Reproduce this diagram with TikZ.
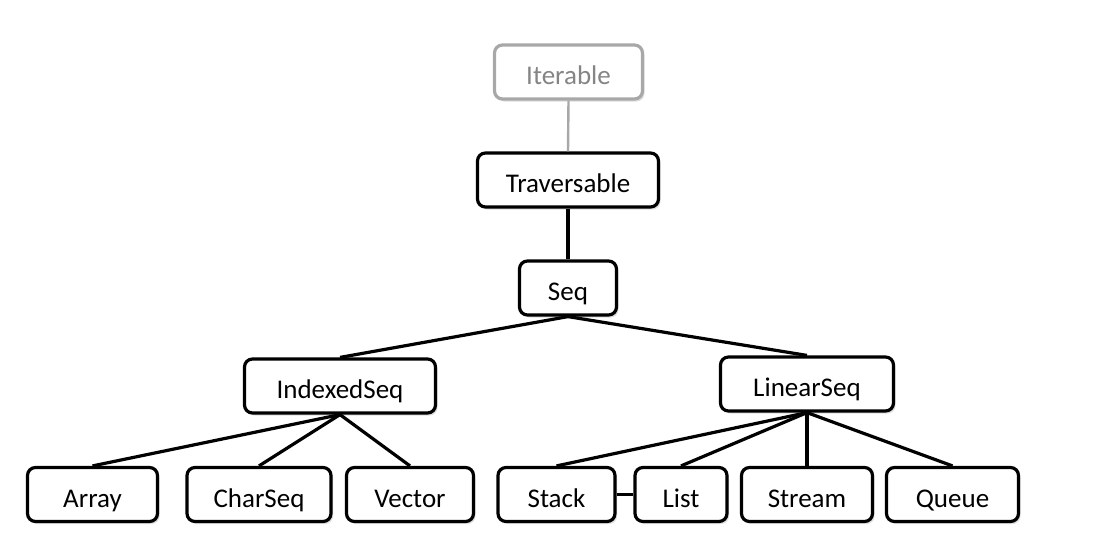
\documentclass[tikz,border=0pt]{standalone}
\usepackage{fontspec}
\setmainfont{Carlito}
\usetikzlibrary{shadows}
\definecolor{grayline}{HTML}{A8A8A8}
\definecolor{graytext}{HTML}{858585}
\tikzset{
  box/.style={draw=black, line width=3.2pt, rounded corners=8pt, fill=white,
    minimum height=54pt, inner sep=0pt, font=\fontsize{27}{32}\selectfont,
    text height=26pt, text depth=1pt,
    drop shadow={opacity=0.25, shadow xshift=2pt, shadow yshift=-2.5pt}},
  graybox/.style={box, draw=grayline, text=graytext},
  link/.style={line width=3.2pt, black},
  graylink/.style={line width=2.4pt, grayline},
}
\begin{document}
\begin{tikzpicture}[x=1pt,y=-1pt]
\useasboundingbox (0,0) rectangle (1116,542);
\fill[white] (0,0) rectangle (1116,542);
\node[graybox, minimum width=148pt] (iter) at (568.5,72) {Iterable};
\node[box, minimum width=181pt] (trav) at (568,180) {Traversable};
\node[box, minimum width=97pt] (seq) at (568,288) {Seq};
\node[box, minimum width=191pt] (idx) at (340,386) {IndexedSeq};
\node[box, minimum width=173pt] (lin) at (807,384) {LinearSeq};
\node[box, minimum width=130pt] (arr) at (92.5,494.5) {Array};
\node[box, minimum width=144pt] (chs) at (259,494.5) {CharSeq};
\node[box, minimum width=127pt] (vec) at (410,494.5) {Vector};
\node[box, minimum width=117pt] (stk) at (556.5,494.5) {Stack};
\node[box, minimum width=92pt] (lst) at (681,494.5) {List};
\node[box, minimum width=131pt] (str) at (807,494.5) {Stream};
\node[box, minimum width=132pt] (que) at (952.5,494.5) {Queue};
\draw[graylink] (iter.south) -- (trav.north);
\draw[link] (trav.south) -- (seq.north);
\draw[link] (seq.south) -- (idx.north);
\draw[link] (seq.south) -- (lin.north);
\draw[link] (idx.south) -- (arr.north);
\draw[link] (idx.south) -- (chs.north);
\draw[link] (idx.south) -- (vec.north);
\draw[link] (lin.south) -- (stk.north);
\draw[link] (lin.south) -- (lst.north);
\draw[link] (lin.south) -- (str.north);
\draw[link] (lin.south) -- (que.north);
\draw[link] (stk.east) -- (lst.west);
\end{tikzpicture}
\end{document}
